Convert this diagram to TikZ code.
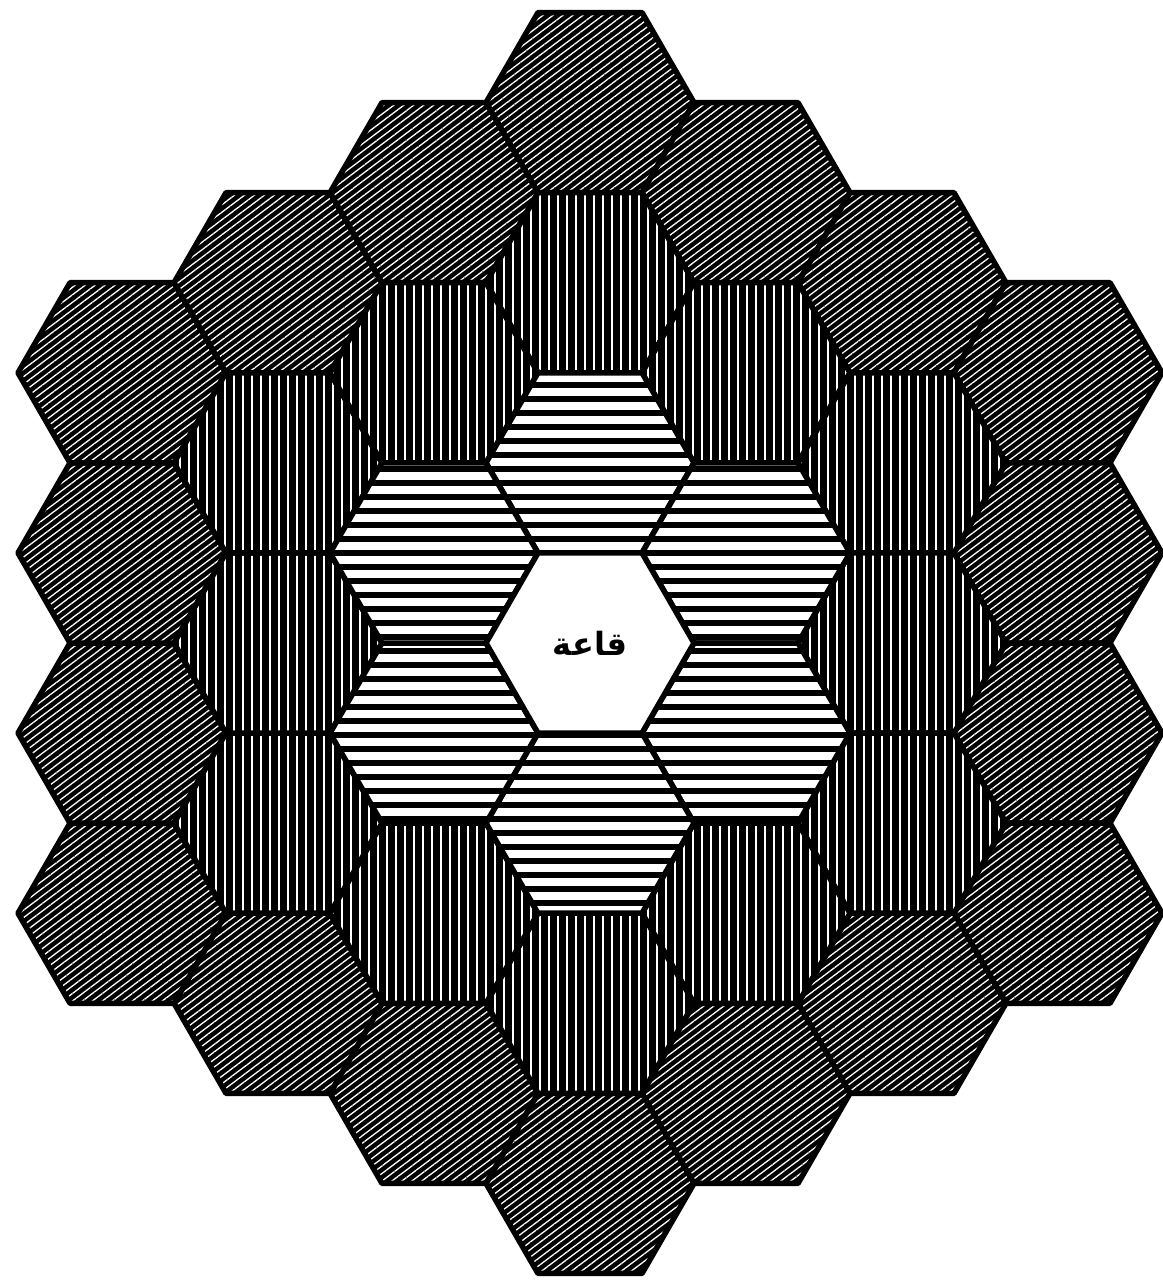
\documentclass[tikz,border=0pt]{standalone}
\usepackage{fontspec}
\newfontfamily\arabicfont[Script=Arabic]{DejaVu Sans}
\TeXXeTstate=1
\usetikzlibrary{shapes.geometric,patterns.meta}

\begin{document}
\begin{tikzpicture}[
  x=1pt,y=-1pt,
  cell/.style={regular polygon,regular polygon sides=6,minimum size=208pt,
    inner sep=0pt,outer sep=0pt},
  border/.style={postaction={draw=black,line width=5.5pt,line join=round}},
  hall/.style={cell,fill=white,border},
  inner ring/.style={cell,fill=white,
    postaction={pattern={Lines[angle=0,distance=14pt,line width=6pt]},pattern color=black},
    border},
  middle ring/.style={cell,fill=black,
    postaction={pattern={Lines[angle=90,distance=9pt,line width=1.8pt]},pattern color=white},
    border},
  outer ring/.style={cell,fill=black,
    postaction={pattern={Lines[angle=37,distance=6pt,line width=1.3pt]},pattern color=white},
    border}
]
  \useasboundingbox (0,0) rectangle (1162,1281);

  % outer ring, 18 cells
  \foreach \q/\r [count=\i] in {0/-3,1/-3,2/-3,3/-3,3/-2,3/-1,3/0,2/1,1/2,0/3,
      -1/3,-2/3,-3/3,-3/2,-3/1,-3/0,-2/-1,-1/-2}
    \node[outer ring] (outer-\i) at ({590+156*\q},{643+180.13*(\r+\q/2)}) {};

  % middle ring, 12 cells
  \foreach \q/\r [count=\i] in {0/-2,1/-2,2/-2,2/-1,2/0,1/1,0/2,-1/2,-2/2,-2/1,-2/0,-1/-1}
    \node[middle ring] (middle-\i) at ({590+156*\q},{643+180.13*(\r+\q/2)}) {};

  % inner ring, 6 cells
  \foreach \q/\r [count=\i] in {0/-1,1/-1,1/0,0/1,-1/1,-1/0}
    \node[inner ring] (inner-\i) at ({590+156*\q},{643+180.13*(\r+\q/2)}) {};

  \node[hall,font=\arabicfont\bfseries\fontsize{32}{38}\selectfont] (hall) at (590,643)
    {\beginR قاعة\endR};
\end{tikzpicture}
\end{document}
